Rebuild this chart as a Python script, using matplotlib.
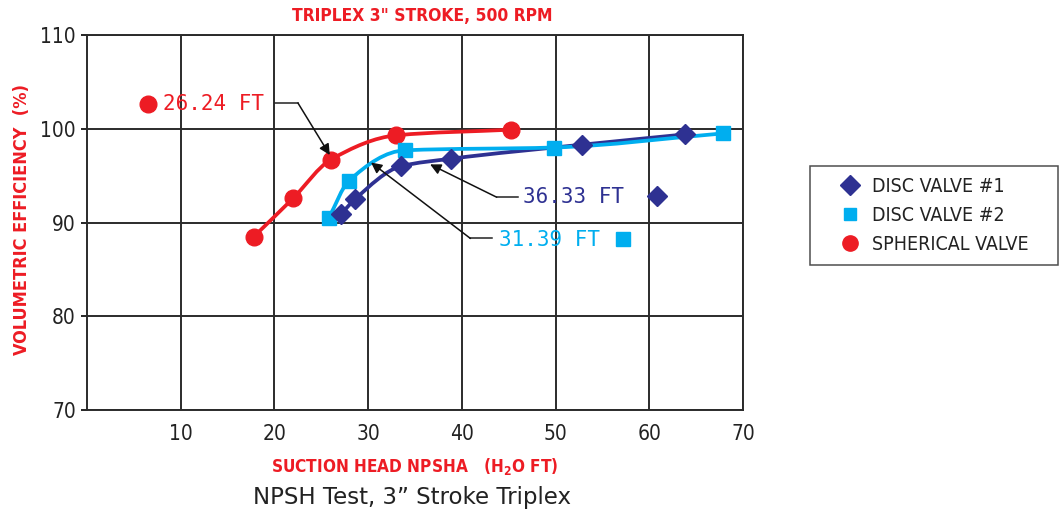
import numpy as np
import matplotlib.pyplot as plt
from matplotlib.path import Path
from matplotlib.patches import PathPatch
from matplotlib.lines import Line2D

RED = '#ED1C24'
LBLUE = '#00AEEF'
DBLUE = '#2E3192'

# data
sph_x = [17.8, 22.0, 26.0, 33.0, 45.2]
sph_y = [88.5, 92.6, 96.7, 99.3, 99.9]
dv1_x = [27.1, 28.6, 33.5, 38.8, 52.8, 63.8]
dv1_y = [90.9, 92.5, 96.0, 96.8, 98.3, 99.4]
dv2_x = [25.8, 27.9, 33.9, 49.8, 67.8]
dv2_y = [90.5, 94.4, 97.7, 98.0, 99.5]

labels = ['DISC VALVE #1', 'DISC VALVE #2', 'SPHERICAL VALVE']

# callouts: text, colour, text pos, marker pos, marker, knee, end of leader, arrow tip
callouts = [
    ('26.24 FT', RED, (8.1, 102.6), (6.5, 102.6), 'o', (22.5, 102.75), (20.1, 102.75), (25.9, 97.2)),
    ('36.33 FT', DBLUE, (46.5, 92.7), (60.8, 92.8), 'D', (43.7, 92.7), (46.0, 92.7), (36.6, 96.2)),
    ('31.39 FT', LBLUE, (43.9, 88.1), (57.2, 88.2), 's', (40.9, 88.3), (43.2, 88.3), (30.3, 96.4)),
]


def smooth_path(x, y):
    # monotone cubic (Fritsch-Carlson) tangents, drawn as bezier segments
    x = np.asarray(x, float)
    y = np.asarray(y, float)
    h = np.diff(x)
    d = np.diff(y) / h
    m = np.zeros_like(x)
    m[0], m[-1] = d[0], d[-1]
    for i in range(1, len(x) - 1):
        if d[i - 1] * d[i] > 0:
            w1 = 2 * h[i] + h[i - 1]
            w2 = h[i] + 2 * h[i - 1]
            m[i] = (w1 + w2) / (w1 / d[i - 1] + w2 / d[i])
    verts = [(x[0], y[0])]
    codes = [Path.MOVETO]
    for i in range(len(x) - 1):
        verts += [(x[i] + h[i] / 3, y[i] + m[i] * h[i] / 3),
                  (x[i + 1] - h[i] / 3, y[i + 1] - m[i + 1] * h[i] / 3),
                  (x[i + 1], y[i + 1])]
        codes += [Path.CURVE4] * 3
    return Path(verts, codes)


fig = plt.figure(figsize=(10.6, 5.14), dpi=100)
ax = fig.add_axes([0.0821, 0.2023, 0.619, 0.7296])

nf = dict(family='DejaVu Sans', stretch='condensed')

ax.set_xlim(0, 70)
ax.set_ylim(70, 110)
ax.set_xticks(range(10, 71, 10))
ax.set_yticks(range(70, 111, 10))
ax.grid(True, color='#2b2b2b', lw=1.4)
ax.set_axisbelow(True)
for s in ax.spines.values():
    s.set_color('#2b2b2b')
    s.set_linewidth(1.4)
ax.tick_params(axis='x', length=0, pad=10, labelsize=15)
ax.tick_params(axis='y', length=4, width=1.2, pad=4, labelsize=15, direction='out')
for t in ax.get_xticklabels() + ax.get_yticklabels():
    t.set_family('DejaVu Sans')
    t.set_stretch('condensed')
    t.set_color('#222222')

for xs, ys, c in [(sph_x, sph_y, RED), (dv1_x, dv1_y, DBLUE), (dv2_x, dv2_y, LBLUE)]:
    ax.add_patch(PathPatch(smooth_path(xs, ys), fc='none', ec=c, lw=2.7, zorder=3))

ax.plot(sph_x, sph_y, 'o', color=RED, ms=12, zorder=4)
ax.plot(dv2_x, dv2_y, 's', color=LBLUE, ms=9.5, zorder=4)
ax.plot(dv1_x, dv1_y, 'D', color=DBLUE, ms=10, zorder=5)

for txt, c, tpos, mpos, mk, knee, lstart, tip in callouts:
    ax.text(tpos[0], tpos[1], txt, color=c, fontsize=15, family='DejaVu Sans Mono',
            va='center', ha='left', zorder=6)
    ms = 12 if mk == 'o' else (9.5 if mk == 's' else 10)
    ax.plot([mpos[0]], [mpos[1]], mk, color=c, ms=ms, zorder=6)
    ax.plot([lstart[0], knee[0]], [lstart[1], knee[1]], color='#222222', lw=1.1, zorder=6)
    ax.annotate('', xy=tip, xytext=knee,
                arrowprops=dict(arrowstyle='-|>', color='#111111', lw=1.1,
                                mutation_scale=16, shrinkA=0, shrinkB=0), zorder=6)

fig.text(0.398, 0.968, 'TRIPLEX 3" STROKE, 500 RPM', color=RED, fontsize=12.5,
         fontweight='bold', ha='center', va='center', **nf)
fig.text(0.021, 0.572, 'VOLUMETRIC EFFICIENCY  (%)', color=RED, fontsize=13,
         fontweight='bold', rotation=90, ha='center', va='center', **nf)
ax.set_xlabel(r'SUCTION HEAD NPSHA   (H$_\mathregular{2}$O FT)', color=RED, fontsize=12.3,
              fontweight='bold', labelpad=9, **nf)
fig.text(0.389, 0.033, 'NPSH Test, 3\u201d Stroke Triplex', color='#222222',
         fontsize=16.5, family='DejaVu Sans', ha='center', va='center')

handles = [Line2D([], [], ls='none', marker='D', color=DBLUE, ms=10),
           Line2D([], [], ls='none', marker='s', color=LBLUE, ms=9),
           Line2D([], [], ls='none', marker='o', color=RED, ms=11)]
leg = fig.legend(handles, labels, loc='center', mode='expand',
                 bbox_to_anchor=(0.764, 0.4844, 0.234, 0.1926),
                 frameon=True, fancybox=False, edgecolor='#222222',
                 prop=dict(size=14, **nf), handlelength=2.9, handletextpad=-0.3,
                 borderpad=0.6, labelspacing=0.5, borderaxespad=0)
leg.get_frame().set_linewidth(1.1)
for t in leg.get_texts():
    t.set_color('#222222')

fig.savefig('out.png', dpi=100)
